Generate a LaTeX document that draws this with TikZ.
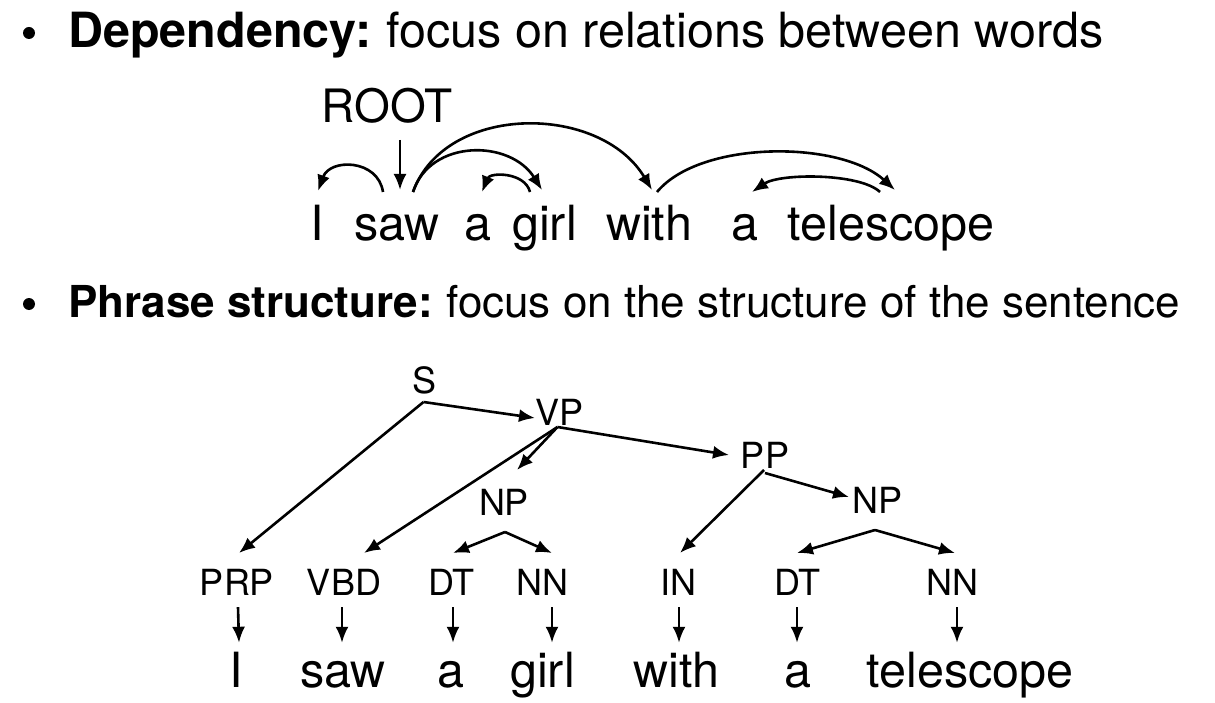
\documentclass[tikz,border=0pt]{standalone}
\usepackage{fontspec}
\setmainfont{TeX Gyre Heros}
\usetikzlibrary{arrows.meta}
\begin{document}
\begin{tikzpicture}[x=1pt,y=-1pt,
  arr/.style={line width=2.6pt,-{Latex[length=16pt,width=13pt]}},
  lbl/.style={inner sep=0pt,anchor=base},
  head/.style={inner sep=0pt,anchor=base west},
  bul/.style={circle,fill=black,inner sep=0pt,minimum size=12pt},
  dword/.style={lbl,font=\fontsize{48.5}{50}\selectfont},
  root/.style={lbl,font=\fontsize{46}{48}\selectfont},
  phr/.style={lbl,font=\fontsize{36}{40}\selectfont},
  tag/.style={lbl,font=\fontsize{36}{40}\selectfont,text height=42pt,text depth=12pt},
  pword/.style={lbl,font=\fontsize{48.5}{50}\selectfont,text height=44pt}]
\useasboundingbox (0,0) rectangle (1215,703);
% headings
\node[bul] (b1) at (29,33) {};
\node[head,font=\fontsize{48.5}{52}\selectfont] (h1) at (68,48) {\textbf{Dependency:}\hspace{-3pt} focus on relations between words};
\node[bul] (b2) at (29,304) {};
\node[head,font=\fontsize{44}{48}\selectfont] (h2) at (68,317) {\textbf{Phrase structure:}\hspace{-3pt} focus on the structure of the sentence};
% dependency
\node[root] (ROOT) at (387,123) {ROOT};
\node[dword] (dI) at (317,241) {I};
\node[dword] (dsaw) at (397,241) {saw};
\node[dword] (da1) at (477.5,241) {a};
\node[dword] (dgirl) at (544.5,241) {girl};
\node[dword] (dwith) at (649,241) {with};
\node[dword] (da2) at (745,241) {a};
\node[dword] (dtel) at (891,241) {telescope};
\draw[arr] ([shift={(13,17)}]ROOT.base) -- ([shift={(3,-51)}]dsaw.base);
\draw[arr] ([shift={(-14,-49)}]dsaw.base) .. controls +(-5,-33) and +(12,-33) .. ([shift={(1,-50)}]dI.base);
\draw[arr] ([shift={(16,-49)}]dsaw.base) .. controls +(17,-53) and +(-32,-51) .. ([shift={(-2.5,-51)}]dgirl.base);
\draw[arr] ([shift={(16,-49)}]dsaw.base) .. controls +(32,-89) and +(-52,-87) .. ([shift={(3,-51)}]dwith.base);
\draw[arr] ([shift={(-14.5,-49)}]dgirl.base) .. controls +(-5,-20) and +(8,-20) .. ([shift={(4.5,-49)}]da1.base);
\draw[arr] ([shift={(8,-49)}]dwith.base) .. controls +(43,-52) and +(-55,-50) .. ([shift={(4,-51)}]dtel.base);
\draw[arr] ([shift={(-11,-49)}]dtel.base) .. controls +(-20,-19) and +(28,-19) .. ([shift={(7,-49)}]da2.base);
% phrase structure
\node[phr] (S) at (424.5,393) {S};
\node[phr] (VP) at (559.5,425) {VP};
\node[phr] (NP1) at (504,515) {NP};
\node[phr] (PP) at (765,468) {PP};
\node[phr] (NP2) at (877.5,513) {NP};
\node[tag] (tPRP) at (237,595) {PRP};
\node[tag] (tVBD) at (344,595) {VBD};
\node[tag] (tDT1) at (451.5,595) {DT};
\node[tag] (tNN1) at (542.5,595) {NN};
\node[tag] (tIN) at (678.5,595) {IN};
\node[tag] (tDT2) at (797.5,595) {DT};
\node[tag] (tNN2) at (952.5,595) {NN};
\node[pword] (wI) at (236.5,687) {I};
\node[pword] (wsaw) at (343,687) {saw};
\node[pword] (wa1) at (450.5,687) {a};
\node[pword] (wgirl) at (542.5,687) {girl};
\node[pword] (wwith) at (676.5,687) {with};
\node[pword] (wa2) at (797.5,687) {a};
\node[pword] (wtel) at (970,687) {telescope};
% tree edges
\draw[arr] ([shift={(-1,9)}]S.base) -- ([shift={(2,-42)}]tPRP.base);
\draw[arr] ([shift={(-1,9)}]S.base) -- ([shift={(-24.5,-7)}]VP.base);
\draw[arr] ([shift={(-2,2)}]VP.base) -- ([shift={(20,-42)}]tVBD.base);
\draw[arr] ([shift={(-2,2)}]VP.base) -- ([shift={(13,-45)}]NP1.base);
\draw[arr] ([shift={(-2,2)}]VP.base) -- ([shift={(-36,-13)}]PP.base);
\draw[arr] ([shift={(1,17)}]NP1.base) -- ([shift={(1.5,-42)}]tDT1.base);
\draw[arr] ([shift={(1,17)}]NP1.base) -- ([shift={(9.5,-42)}]tNN1.base);
\draw[arr] ([shift={(-1,2)}]PP.base) -- ([shift={(1.5,-42)}]tIN.base);
\draw[arr] ([shift={(0,5)}]PP.base) -- ([shift={(-28.5,-16)}]NP2.base);
\draw[arr] ([shift={(-2.5,17)}]NP2.base) -- ([shift={(-0.5,-42)}]tDT2.base);
\draw[arr] ([shift={(-2.5,17)}]NP2.base) -- ([shift={(2.5,-42)}]tNN2.base);
% tag to word
\draw[arr] ([xshift=1pt]tPRP.south) -- ([xshift=2.5pt]wI.north);
\draw[arr] ([xshift=-2pt]tVBD.south) -- ([xshift=-1pt]wsaw.north);
\draw[arr] ([xshift=1.5pt]tDT1.south) -- ([xshift=2.5pt]wa1.north);
\draw[arr] ([xshift=9.5pt]tNN1.south) -- ([xshift=9.5pt]wgirl.north);
\draw[arr] ([xshift=0.5pt]tIN.south) -- ([xshift=2.5pt]wwith.north);
\draw[arr] ([xshift=-0.5pt]tDT2.south) -- ([xshift=-0.5pt]wa2.north);
\draw[arr] ([xshift=4.5pt]tNN2.south) -- ([xshift=-13pt]wtel.north);
\end{tikzpicture}
\end{document}
